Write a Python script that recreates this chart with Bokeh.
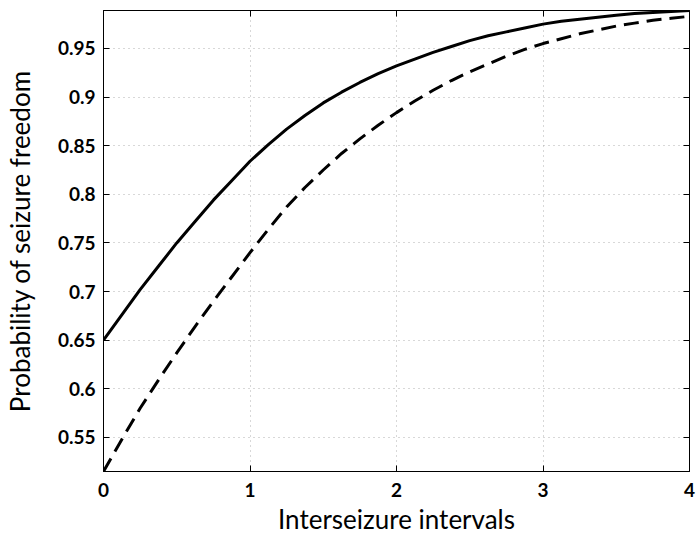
from bokeh.plotting import figure
from bokeh.models import LinearAxis, Range1d, FixedTicker
from bokeh.embed import file_html
from bokeh.resources import INLINE

# Data
x_vals = [0.0, 0.125, 0.25, 0.375, 0.5, 0.625, 0.75, 0.875, 1.0, 1.125, 1.25, 1.375,
          1.5, 1.625, 1.75, 1.875, 2.0, 2.125, 2.25, 2.375, 2.5, 2.625, 2.75, 2.875,
          3.0, 3.125, 3.25, 3.375, 3.5, 3.625, 3.75, 3.875, 4.0]
solid_vals = [0.650, 0.676, 0.702, 0.726, 0.750, 0.772, 0.794, 0.814, 0.834, 0.851, 0.867, 0.881,
              0.894, 0.905, 0.915, 0.924, 0.932, 0.939, 0.946, 0.952, 0.958, 0.963, 0.967, 0.971,
              0.975, 0.978, 0.980, 0.982, 0.984, 0.986, 0.987, 0.988, 0.989]
dashed_vals = [0.515, 0.548, 0.580, 0.609, 0.637, 0.664, 0.690, 0.715, 0.740, 0.764, 0.787, 0.807,
               0.825, 0.842, 0.857, 0.871, 0.884, 0.896, 0.907, 0.917, 0.926, 0.934, 0.942, 0.949,
               0.955, 0.960, 0.965, 0.969, 0.973, 0.976, 0.979, 0.981, 0.983]

x_ticks = [0, 1, 2, 3, 4]
x_tick_labels = ["0", "1", "2", "3", "4"]
y_ticks = [0.55, 0.6, 0.65, 0.7, 0.75, 0.8, 0.85, 0.9, 0.95]
y_tick_labels = ["0.55", "0.6", "0.65", "0.7", "0.75", "0.8", "0.85", "0.9", "0.95"]

x_label = "Interseizure intervals"
y_label = "Probability of seizure freedom"

FONT = "Lato"

p = figure(width=700, height=539, output_backend="svg", toolbar_location=None,
           x_range=Range1d(min(x_vals), max(x_vals)),
           y_range=Range1d(min(dashed_vals), max(solid_vals)),
           min_border_left=103, min_border_right=11, min_border_top=10, min_border_bottom=68)

p.background_fill_color = "white"
p.border_fill_color = "white"
p.outline_line_color = "black"
p.outline_line_width = 1

p.line(x_vals, solid_vals, line_color="black", line_width=3)
p.line(x_vals, dashed_vals, line_color="black", line_width=3, line_dash="15 8")

# grids
for g in (p.xgrid, p.ygrid):
    g.grid_line_color = "#b0b0b0"
    g.grid_line_dash = "1 4"
    g.grid_line_width = 1
p.xgrid.ticker = FixedTicker(ticks=x_ticks)
p.ygrid.ticker = FixedTicker(ticks=y_ticks)

def style_axis(ax, ticks, labels, show_labels):
    ax.ticker = FixedTicker(ticks=ticks)
    ax.major_label_overrides = {t: l for t, l in zip(ticks, labels)}
    ax.major_tick_in = 6
    ax.major_tick_out = 0
    ax.minor_tick_in = 0
    ax.minor_tick_out = 0
    ax.axis_line_color = "black"
    ax.major_tick_line_color = "black"
    ax.major_label_text_font = FONT
    ax.major_label_text_font_size = "19px"
    ax.major_label_text_font_style = "bold"
    ax.major_label_text_color = "black"
    if not show_labels:
        ax.major_label_text_color = None
        ax.major_label_text_font_size = "1px"
        ax.major_label_standoff = 0

xa = p.xaxis[0]
ya = p.yaxis[0]
style_axis(xa, x_ticks, x_tick_labels, True)
style_axis(ya, y_ticks, y_tick_labels, True)
xa.major_label_standoff = 11
ya.major_label_standoff = 8

xa.axis_label = x_label
ya.axis_label = y_label
for ax in (xa, ya):
    ax.axis_label_text_font = FONT
    ax.axis_label_text_font_size = "26px"
    ax.axis_label_text_font_style = "normal"
    ax.axis_label_text_color = "black"
xa.axis_label_standoff = 3
ya.axis_label_standoff = 19

top = LinearAxis()
right = LinearAxis()
style_axis(top, x_ticks, x_tick_labels, False)
style_axis(right, y_ticks, y_tick_labels, False)
p.add_layout(top, "above")
p.add_layout(right, "right")

open("out.html", "w").write(file_html(p, INLINE))
